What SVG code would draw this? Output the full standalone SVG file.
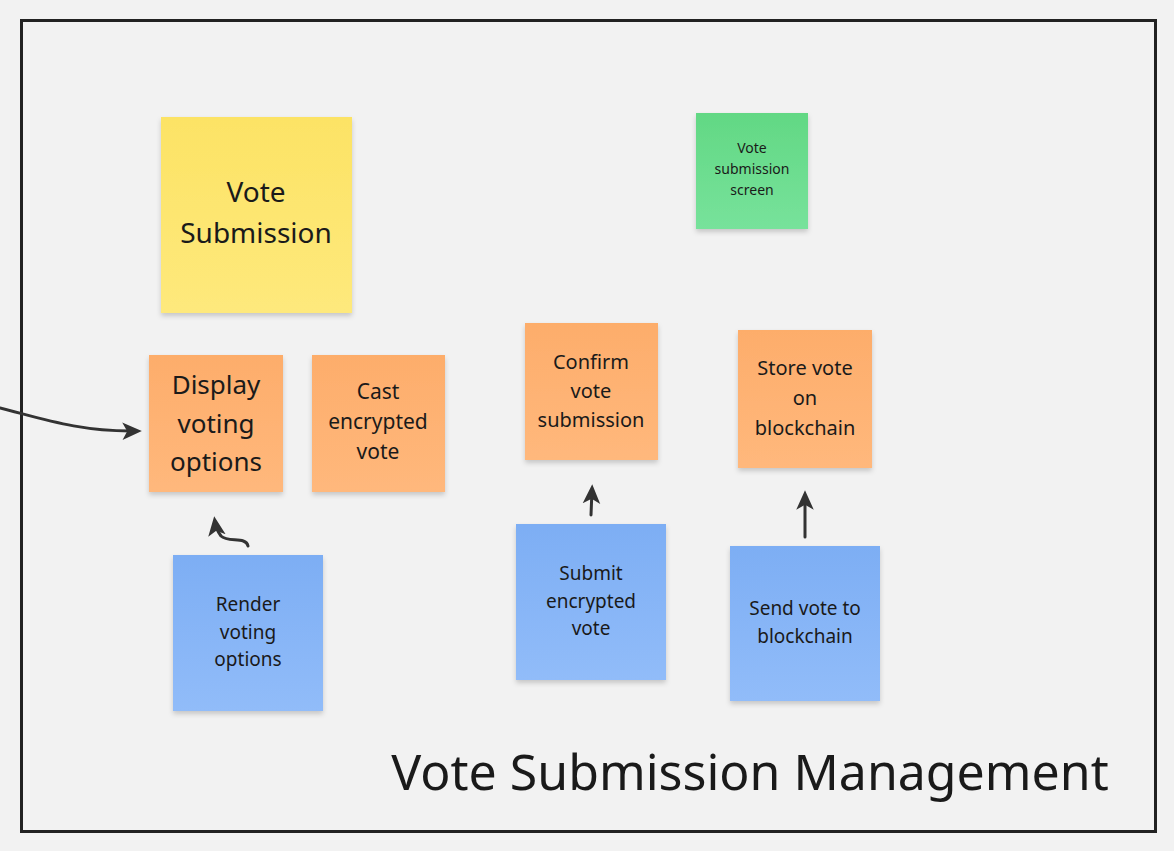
<svg xmlns="http://www.w3.org/2000/svg" width="1174" height="851" viewBox="0 0 1174 851">
<defs>
<linearGradient id="gy" x1="0" y1="0" x2="0" y2="1"><stop offset="0" stop-color="#fce365"/><stop offset="1" stop-color="#fee97c"/></linearGradient>
<linearGradient id="go" x1="0" y1="0" x2="0" y2="1"><stop offset="0" stop-color="#fdad6b"/><stop offset="1" stop-color="#ffb87c"/></linearGradient>
<linearGradient id="gb" x1="0" y1="0" x2="0" y2="1"><stop offset="0" stop-color="#7daef4"/><stop offset="1" stop-color="#91bcf9"/></linearGradient>
<linearGradient id="gg" x1="0" y1="0" x2="0" y2="1"><stop offset="0" stop-color="#62d884"/><stop offset="1" stop-color="#77e29b"/></linearGradient>
<filter id="sh" x="-10%" y="-10%" width="120%" height="125%"><feDropShadow dx="0" dy="3" stdDeviation="2.5" flood-color="#000" flood-opacity="0.18"/></filter>
<marker id="ah" viewBox="0 0 10 10" refX="7" refY="5" markerWidth="6.5" markerHeight="6.5" orient="auto" markerUnits="strokeWidth"><path d="M0,0.5 L10,5 L0,9.5 L2.5,5 Z" fill="#333"/></marker>
</defs>
<style>
.t{font-family:"Noto Sans","Open Sans",sans-serif;fill:#1a1a1a;text-anchor:middle}
.n{filter:url(#sh)}
.c{fill:none;stroke:#333;stroke-width:3;stroke-linecap:round;marker-end:url(#ah)}
</style>
<rect width="1174" height="851" fill="#f2f2f2"/>
<rect x="21.5" y="20.5" width="1134" height="811" fill="none" stroke="#222" stroke-width="3"/>
<g id="vote-submission"><rect class="n" x="161" y="117" width="191" height="196" fill="url(#gy)"/><text class="t" font-size="28" x="256" y="202">Vote</text><text class="t" font-size="28" x="256" y="243">Submission</text></g>
<g id="screen"><rect class="n" x="696" y="113" width="112" height="116" fill="url(#gg)"/><text class="t" font-size="14" x="752" y="153">Vote</text><text class="t" font-size="14" x="752" y="174">submission</text><text class="t" font-size="14" x="752" y="195">screen</text></g>
<g id="display"><rect class="n" x="149" y="355" width="134" height="137" fill="url(#go)"/><text class="t" font-size="26" x="216" y="394">Display</text><text class="t" font-size="26" x="216" y="433">voting</text><text class="t" font-size="26" x="216" y="471">options</text></g>
<g id="cast"><rect class="n" x="312" y="355" width="133" height="137" fill="url(#go)"/><text class="t" font-size="21" x="378" y="399">Cast</text><text class="t" font-size="21" x="378" y="429">encrypted</text><text class="t" font-size="21" x="378" y="459">vote</text></g>
<g id="confirm"><rect class="n" x="525" y="323" width="133" height="137" fill="url(#go)"/><text class="t" font-size="20" x="591" y="369">Confirm</text><text class="t" font-size="20" x="591" y="398">vote</text><text class="t" font-size="20" x="591" y="427">submission</text></g>
<g id="store"><rect class="n" x="738" y="330" width="134" height="138" fill="url(#go)"/><text class="t" font-size="20" x="805" y="375">Store vote</text><text class="t" font-size="20" x="805" y="405">on</text><text class="t" font-size="20" x="805" y="435">blockchain</text></g>
<g id="render"><rect class="n" x="173" y="555" width="150" height="156" fill="url(#gb)"/><text class="t" font-size="19" x="248" y="611">Render</text><text class="t" font-size="19" x="248" y="639">voting</text><text class="t" font-size="19" x="248" y="666">options</text></g>
<g id="submit"><rect class="n" x="516" y="524" width="150" height="156" fill="url(#gb)"/><text class="t" font-size="19" x="591" y="580">Submit</text><text class="t" font-size="19" x="591" y="608">encrypted</text><text class="t" font-size="19" x="591" y="635">vote</text></g>
<g id="send"><rect class="n" x="730" y="546" width="150" height="155" fill="url(#gb)"/><text class="t" font-size="19" x="805" y="615">Send vote to</text><text class="t" font-size="19" x="805" y="643">blockchain</text></g>
<g id="connectors">
<path class="c" d="M0,408 C40,418 80,432 136,431"/>
<path class="c" d="M248,546 C246,536 228,543 221,536 C218,532 216,529 215,522"/>
<path class="c" d="M591,515 L592,490"/>
<path class="c" d="M805,537 L805,496"/>
</g>
<text x="750" y="790" font-family="Noto Sans, Open Sans, sans-serif" font-size="50" fill="#1a1a1a" text-anchor="middle">Vote Submission Management</text>
</svg>
